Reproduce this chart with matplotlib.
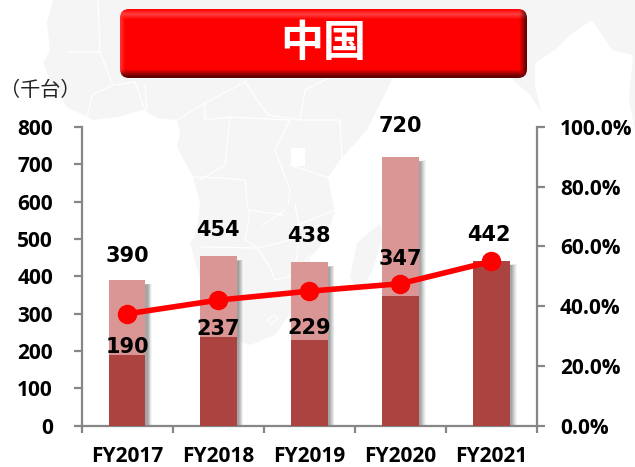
import numpy as np
import matplotlib
matplotlib.use("Agg")
import matplotlib.pyplot as plt
from matplotlib.patches import FancyBboxPatch, Polygon, Rectangle

categories = ["FY2017", "FY2018", "FY2019", "FY2020", "FY2021"]
total = [390, 454, 438, 720, 442]
part = [190, 237, 229, 347, 442]
ratio = [37.4, 42.0, 45.0, 47.5, 55.0]
left_ticks = [0, 100, 200, 300, 400, 500, 600, 700, 800]
right_ticks = [0, 20, 40, 60, 80, 100]

W, H = 635, 467
plt.rcParams['font.family'] = ['Noto Sans CJK JP', 'DejaVu Sans']
fig = plt.figure(figsize=(W / 100, H / 100), dpi=100, facecolor="white")

def fx(x): return x / W
def fy(y): return 1 - y / H

# faint map backdrop (decoration, in pixel coordinates)
bg = fig.add_axes([0, 0, 1, 1], zorder=0)
bg.set_xlim(0, W); bg.set_ylim(H, 0); bg.axis("off")
grey = "#f5f5f5"
africa = [(53,0),(47,23),(50,50),(43,63),(50,80),(67,107),(93,120),(117,117),(143,110),(157,118),(177,120),(180,133),
          (177,147),(193,177),(200,203),(197,233),(190,243),(203,290),(225,335),(250,345),(275,335),(300,300),
          (310,257),(320,247),(335,213),(333,203),(328,177),(340,160),(367,130),(387,90),(392,79),(400,60),(400,0)]
bg.add_patch(Polygon(africa, closed=True, fc=grey, ec="none"))
bg.add_patch(Polygon([(380,223),(357,243),(350,277),(360,293),(373,270),(383,235)], closed=True, fc=grey, ec="none"))
asia = [(395,0),(635,0),(635,130),(629,100),(633,55),(612,50),(592,20),(570,35),(555,50),(535,63),(535,85),(541,112),
        (530,95),(513,80),(505,60),(395,60)]
bg.add_patch(Polygon(asia, closed=True, fc=grey, ec="none"))
borders = [[(98,0),(100,52),(68,52)], [(100,52),(113,85),(92,95),(87,118)], [(115,85),(135,82),(145,110)],
           [(145,85),(147,110)], [(177,120),(205,103),(245,82),(268,115),(300,120),(320,120)],
           [(205,103),(205,120),(230,117),(225,165),(200,180)], [(230,117),(290,120),(275,150),(290,190),(288,205)],
           [(193,177),(222,178),(245,180),(248,210),(283,215)], [(245,82),(245,30)], [(300,120),(305,90),(345,70)],
           [(320,120),(340,120),(342,160)], [(290,165),(335,180)], [(200,247),(258,248),(270,268),(275,280)],
           [(250,212),(245,240),(258,248),(290,240),(298,225),(335,210)], [(295,205),(300,230),(296,262)],
           [(275,280),(295,275),(310,255)], [(263,225),(285,210)]]
for seg in borders:
    bg.plot(*zip(*seg), color="white", lw=0.9)
bg.add_patch(Rectangle((291, 148), 14, 18, fc="white", ec="none"))
bg.add_patch(Polygon([(267,320),(274,315),(278,319),(271,324)], closed=True, fc=grey, ec="white", lw=0.8))
bg.set_xlim(0, W); bg.set_ylim(H, 0)

# title banner with bevel
bx, by, bw, bh = 120, 9, 407, 69
clip = FancyBboxPatch((bx, by), bw, bh, boxstyle="round,pad=0,rounding_size=9", fc="none", ec="none", zorder=3)
bg.add_patch(clip)
ny, nx = bh * 2, bw * 2
img = np.zeros((ny, nx, 3))
yy, xx = np.mgrid[0:ny, 0:nx]
img[..., 0] = 1.0
ypx = yy / 2.0; xpx = xx / 2.0
top = np.clip(1 - np.abs(ypx - 5) / 5, 0, 1) * 0.25
left = np.clip(1 - xpx / 5, 0, 1) * 0.2
img[..., 1] = img[..., 2] = np.maximum(top, left)
dark_b = np.clip((ypx - (bh - 9)) / 7, 0, 1)
dark_r = np.clip((xpx - (bw - 8)) / 7, 0, 1)
dark = np.maximum(dark_b, dark_r) * 0.62
img = img * (1 - dark[..., None])
im = bg.imshow(img, extent=(bx, bx + bw, by + bh, by), zorder=4, aspect="auto", interpolation="bilinear")
im.set_clip_path(clip)
bg.set_xlim(0, W); bg.set_ylim(H, 0)
bg.text(323, 43, "中国", color="white", fontsize=31, fontweight="bold", ha="center", va="center", zorder=5)
bg.text(40.5, 91, "（千台）", color="#222222", fontsize=14.5, ha="center", va="center")

# chart axes
x0, x1, y0, y1 = 81.5, 537, 127, 425.5
ax = fig.add_axes([fx(x0), fy(y1), (x1 - x0) / W, (y1 - y0) / H], zorder=2)
ax.patch.set_alpha(0)
pos = list(range(len(categories)))
ax.set_xlim(-0.5, 4.5)
ax.set_ylim(0, 800)
w = 0.403
for i in pos:
    for k, a in zip((0.075, 0.065, 0.055, 0.045, 0.035, 0.025), (0.05, 0.07, 0.09, 0.11, 0.13, 0.15)):
        ax.add_patch(Rectangle((i - w / 2 + k, 0), w, total[i] - 14 + k * 60, fc="#444444", alpha=a, ec="none", zorder=1))
ax.bar(pos, total, width=w, color="#da9694", zorder=2)
ax.bar(pos, part, width=w, color="#ab4340", zorder=3)

for s in ("top", "right"):
    ax.spines[s].set_visible(False)
for s in ("left", "bottom"):
    ax.spines[s].set_color("#868686"); ax.spines[s].set_linewidth(1.6)
ax.set_yticks(left_ticks)
ax.set_xticks([-0.5, 0.5, 1.5, 2.5, 3.5, 4.5])
ax.set_xticklabels([])
ax.tick_params(axis="y", direction="out", length=5.5, width=1.6, color="#868686", pad=15)
ax.tick_params(axis="x", direction="out", length=5, width=1.6, color="#868686")
for l in ax.get_yticklabels():
    l.set_fontfamily(["Open Sans", "DejaVu Sans"]); l.set_fontweight("bold"); l.set_color("black"); l.set_fontsize(15)
for i, c in zip(pos, categories):
    ax.annotate(c, (i, 0), xytext=(0, -22), textcoords="offset points", ha="center", va="center",
                family=["Open Sans", "DejaVu Sans"], fontweight="bold", fontsize=15, annotation_clip=False)

ax2 = ax.twinx()
ax2.patch.set_alpha(0)
ax2.set_ylim(0, 100)
for s in ("top", "left", "bottom"):
    ax2.spines[s].set_visible(False)
ax2.spines["right"].set_color("#868686"); ax2.spines["right"].set_linewidth(1.6)
ax2.set_yticks(right_ticks)
ax2.set_yticklabels([f"{t:.1f}%" for t in right_ticks], family=["Open Sans", "DejaVu Sans"], fontweight="bold", fontsize=15)
ax2.tick_params(axis="y", direction="out", length=5.5, width=1.6, color="#868686", pad=11)
ax2.plot(pos, ratio, color="#fe0000", lw=4.0, marker="o", ms=13, mec="#fe0000", zorder=6)

lab = dict(family=["DejaVu Sans"], fontweight="bold", fontsize=15, ha="center", va="center", color="black", zorder=8, clip_on=False)
total_label_y = [455, 524, 508, 803, 511]
part_label_y = [211, 259, 262, 447]
total_label_dx = [0, 0, 0, 0, -0.03]
for i in pos:
    ax2.text(i + total_label_dx[i], total_label_y[i] / 8, str(total[i]), **lab)
for i, yv in zip(pos, part_label_y):
    ax2.text(i, yv / 8, str(part[i]), **lab)

fig.savefig("out.png", dpi=100)
